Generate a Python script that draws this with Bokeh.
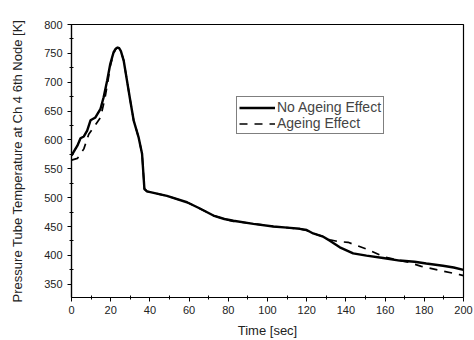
from bokeh.plotting import figure
from bokeh.models import Legend, LegendItem, Range1d, FixedTicker
from bokeh.embed import file_html
from bokeh.resources import INLINE

# No Ageing Effect (solid)
t_no = [0, 3, 4.6, 6.3, 8, 9.7, 12.2, 14.8, 16.4, 18.2, 19.8, 21.5, 22.5, 23.5, 24.3, 25.2, 26.6, 28.3,
        30, 31.7, 34.2, 36, 37.2, 38.5, 48.7, 58.9, 65, 72.4, 78, 82.6, 92.8, 103, 110, 116.5,
        120, 123.3, 128, 131.8, 136.9, 143.7, 150.5, 159, 167.4, 175, 181, 189.5, 195, 200]
v_no = [573, 590, 603, 606, 616, 634, 639, 654, 674, 703, 732, 752, 758, 760, 759, 754, 738, 703,
        668, 634, 605, 576, 515, 511, 503, 492, 482, 469, 463, 460, 454.5, 450, 448, 446,
        444, 438, 433, 425.5, 414, 403.5, 399.5, 395.5, 391, 389, 386, 382, 379, 375]

# Ageing Effect (dashed)
t_ag = [0, 3, 6.3, 8.8, 12, 14.8, 17, 18.5, 19.8, 21.5, 22.5, 23.5, 24.3, 25.2, 26.6, 28.3,
        30, 31.7, 34.2, 36, 37.2, 38.5, 48.7, 58.9, 65, 72.4, 78, 82.6, 92.8, 103, 110, 116.5,
        120, 123.3, 128, 131.8, 136, 141.1, 150.5, 159, 167.4, 172, 178.5, 188.7, 198, 200]
v_ag = [565, 568, 584.5, 610, 625, 639, 671, 700, 728, 750, 757, 760, 759, 754, 738, 703,
        668, 634, 605, 576, 515, 511, 503, 492, 482, 469, 463, 459, 455, 450, 448, 446,
        443, 438, 433, 427, 424, 422.6, 411, 398, 391, 388, 381, 373.5, 366.5, 365]

x_ticks = [0, 20, 40, 60, 80, 100, 120, 140, 160, 180, 200]
y_ticks = [350, 400, 450, 500, 550, 600, 650, 700, 750, 800]

p = figure(width=474, height=340, output_backend="svg", toolbar_location=None,
           x_range=Range1d(0, 200), y_range=Range1d(327, 800),
           min_border_left=71, min_border_right=11, min_border_top=24, min_border_bottom=42)
p.background_fill_color = "white"
p.border_fill_color = "white"
p.outline_line_color = "black"
p.outline_line_width = 1.2
p.grid.visible = False

p.xaxis.ticker = FixedTicker(ticks=x_ticks, minor_ticks=list(range(10, 200, 20)))
p.yaxis.ticker = FixedTicker(ticks=y_ticks, minor_ticks=list(range(375, 800, 50)))
for ax in (p.xaxis[0], p.yaxis[0]):
    ax.axis_line_color = "black"
    ax.axis_line_width = 1.2
    ax.major_tick_line_color = "black"
    ax.minor_tick_line_color = "black"
    ax.major_tick_out = 4
    ax.major_tick_in = 0
    ax.minor_tick_out = 2
    ax.minor_tick_in = 2
    ax.major_label_text_font = "Liberation Sans"
    ax.major_label_text_font_size = "11px"
    ax.major_label_text_color = "#222222"
    ax.axis_label_text_font = "Liberation Sans"
    ax.axis_label_text_font_size = "13px"
    ax.axis_label_text_font_style = "normal"
    ax.axis_label_text_color = "#222222"
p.xaxis.axis_label = "Time [sec]"
p.yaxis.axis_label = "Pressure Tube Temperature at Ch 4 6th Node [K]"
p.xaxis.axis_label_standoff = 6
p.yaxis.axis_label_standoff = 16
p.xaxis.major_label_standoff = 4
p.yaxis.major_label_standoff = 5

r1 = p.line(t_no, v_no, line_color="black", line_width=2.4)
r2 = p.line(t_ag, v_ag, line_color="black", line_width=1.7, line_dash="8 7")

legend = Legend(items=[LegendItem(label="No Ageing Effect", renderers=[r1]),
                       LegendItem(label="Ageing Effect", renderers=[r2])],
                location=(165, 163), label_text_font="Liberation Sans",
                label_text_font_size="14px", label_height=15, glyph_height=15,
                glyph_width=36, spacing=0, padding=2, margin=0,
                border_line_color="black", border_line_width=1,
                label_standoff=2)
p.add_layout(legend, "center")

with open("out.html", "w") as f:
    f.write(file_html(p, INLINE))
